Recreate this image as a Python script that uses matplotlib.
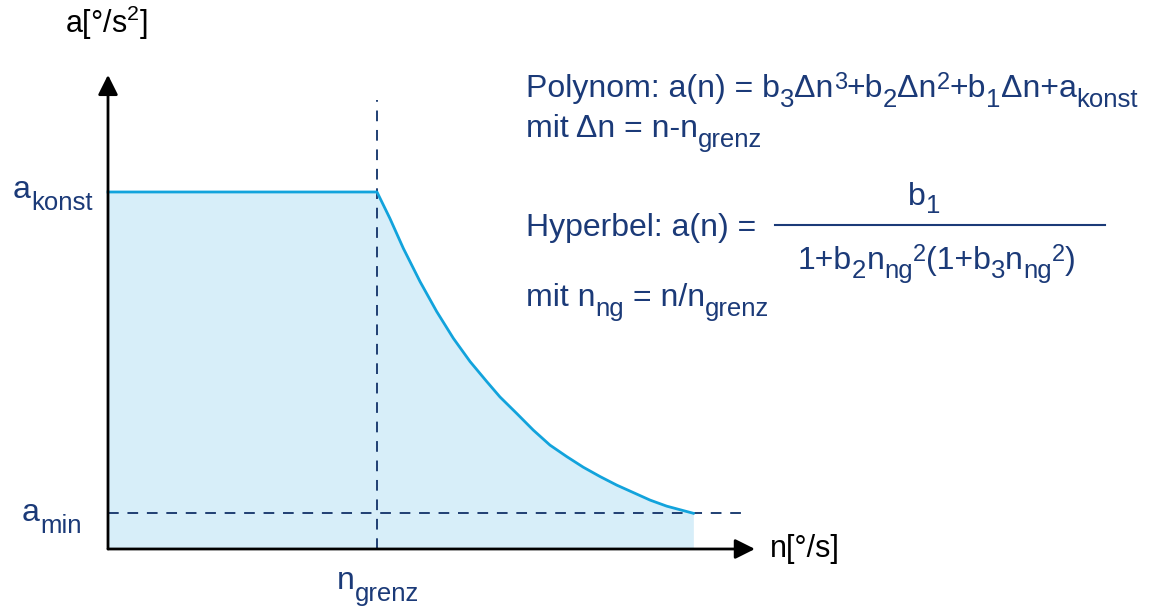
import matplotlib
matplotlib.use("Agg")
import matplotlib.pyplot as plt
from matplotlib.lines import Line2D

plt.rcParams['font.family'] = ['Liberation Sans', 'DejaVu Sans']
plt.rcParams['mathtext.default'] = 'regular'

# data (n in units of n_grenz, a in units of a_konst)
a_konst = 1.0
a_min = 0.1
n_grenz = 1.0
plateau_n = [0.0, 1.0]
plateau_a = [1.0, 1.0]
curve_n = [1.0, 1.048, 1.098, 1.160, 1.222, 1.284, 1.346, 1.408, 1.457, 1.519,
           1.581, 1.643, 1.705, 1.767, 1.829, 1.891, 1.953, 2.015, 2.077, 2.176]
curve_a = [1.0, 0.926, 0.842, 0.749, 0.665, 0.590, 0.525, 0.469, 0.426, 0.380,
           0.333, 0.291, 0.259, 0.229, 0.203, 0.179, 0.158, 0.137, 0.120, 0.100]

text_col = '#1b3a78'
line_col = '#12a3dc'
fill_col = '#d7eef9'
dash_col = '#1f3f73'

W, H = 1164, 612
FS, SUB, SUP = 23, 18.5, 17

fig = plt.figure(figsize=(W / 100, H / 100), dpi=100)
ax = fig.add_axes([0, 0, 1, 1])
ax.set_xlim(-0.4015, 3.9257)
ax.set_ylim(-0.1765, 1.5378)
ax.axis('off')

n_all = plateau_n + curve_n[1:]
a_all = plateau_a + curve_a[1:]
ax.fill_between(n_all, 0, a_all, color=fill_col, lw=0, zorder=1)
ax.plot(n_all, a_all, color=line_col, lw=2, zorder=3)

# dashed helper lines
ax.plot([n_grenz, n_grenz], [0, 1.258], color=dash_col, lw=1.4, dashes=(5.5, 4.5), zorder=2)
ax.plot([0, 2.368], [a_min, a_min], color=dash_col, lw=1.4, dashes=(5.5, 4.5), zorder=2)

# axes with arrows
arr = dict(arrowstyle='-|>', color='black', lw=2, mutation_scale=30, shrinkA=0, shrinkB=0)
ax.annotate('', xy=(0, 1.328), xytext=(0, 0), arrowprops=arr, zorder=4)
ax.annotate('', xy=(2.405, 0), xytext=(0, 0), arrowprops=arr, zorder=4)

ax.text(-0.16, 1.475, 'a[°/s$^2$]', fontsize=22, color='black', va='center')
ax.text(2.46, 0.0, 'n[°/s]', fontsize=22, color='black', va='center')


# text with PowerPoint-like sub/superscripts, pieces chained one after the other
def rich(x, y, parts, drop=10, rise=8):
    # x, y = left end and baseline in picture pixels (from top-left)
    prev = ax.annotate(parts[0], xy=(x, H - y), xycoords='figure pixels', fontsize=FS,
                       color=text_col, va='baseline', ha='left')
    for p in parts[1:]:
        gap = 0
        if p.startswith('_'):
            s, size, dy = p[1:], SUB, -drop
        elif p.startswith('^'):
            s, size, dy = p[1:], SUP, rise
        else:
            s, size, dy = p, FS, 0
            if s.startswith(' '):
                s, gap = s.lstrip(), 0.278 * FS
        prev = ax.annotate(s, xy=(1, H - y + dy), xycoords=(prev, 'figure pixels'),
                           xytext=(gap, 0), textcoords='offset points', fontsize=size,
                           color=text_col, va='baseline', ha='left')
    return prev


rich(13, 198, ['a', '_konst'], drop=12)
rich(22, 521, ['a', '_min'], drop=12)
rich(337, 589, ['n', '_grenz'], drop=12)

rich(526, 97, ['Polynom: a(n) = b', '_3', 'Δn', '^3', '+b', '_2', 'Δn', '^2', '+b', '_1',
               'Δn+a', '_konst'])
rich(526, 137, ['mit Δn = n-n', '_grenz'])
rich(526, 236, ['Hyperbel: a(n) ='])
rich(908, 205, ['b', '_1'], drop=8)
fig.add_artist(Line2D([775 / W, 1105 / W], [1 - 225 / H, 1 - 225 / H], color=text_col, lw=1.5))
rich(798, 269, ['1+b', '_2', 'n', '_ng', '^2', '(1+b', '_3', 'n', '_ng', '^2', ')'], drop=9)
rich(526, 306, ['mit n', '_ng', ' = n/n', '_grenz'])

fig.savefig('out.png', dpi=100)
